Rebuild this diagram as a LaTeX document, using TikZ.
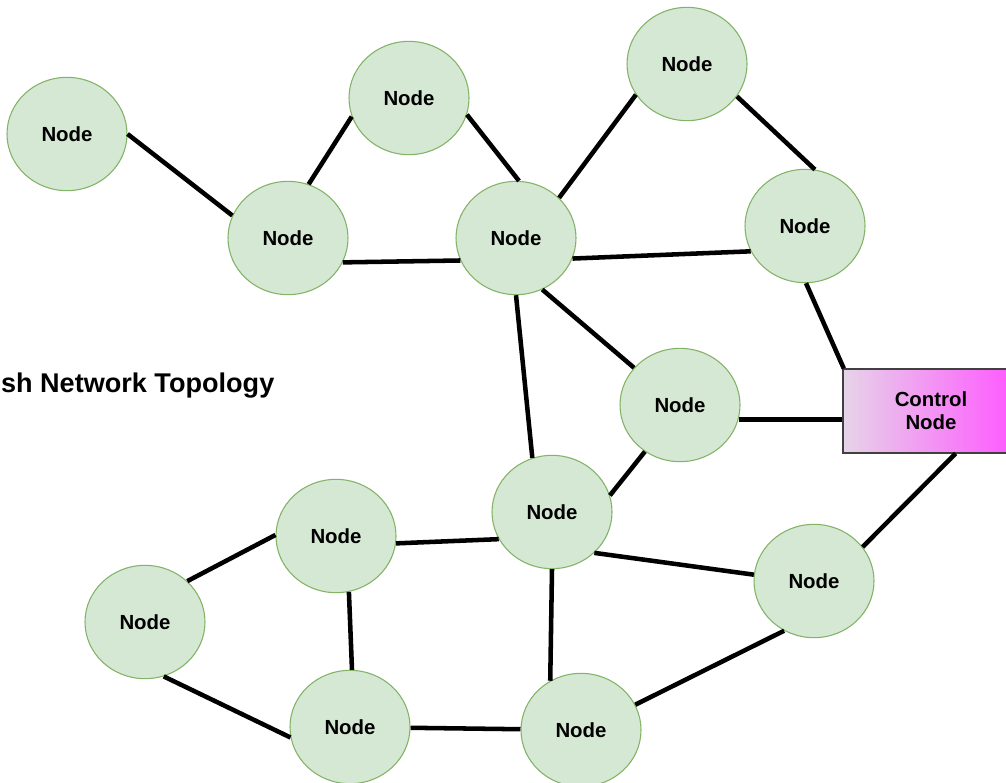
\documentclass[tikz,border=0pt]{standalone}
\usepackage{fontspec}
\setmainfont{Liberation Sans}
\usetikzlibrary{positioning,shapes,shapes.geometric,arrows}
\definecolor{meshfill}{HTML}{D5E8D4}
\definecolor{meshline}{HTML}{82B366}
\definecolor{ctrlleft}{HTML}{E6D4E8}
\definecolor{ctrlright}{HTML}{FF55FF}

\begin{document}
\begin{tikzpicture}[
		x=0.75pt,y=-0.75pt,
		meshnode/.style={draw=meshline,fill=meshfill,line width=0.8pt,ellipse,minimum width=90pt,minimum height=85pt,inner sep=0pt,font=\fontsize{15.3}{17}\selectfont\bfseries},
		ctrlnode/.style={draw=black!75,line width=0.8pt,rectangle,minimum width=132pt,minimum height=63pt,align=center,left color=ctrlleft,right color=ctrlright,font=\fontsize{15.3}{17.25}\selectfont\bfseries},
		link/.style={line width=3.4pt,black}
		]
		\useasboundingbox (0,0) rectangle (1006,782);
		\node[meshnode] (far) at (67,134) {Node};
		\node[meshnode] (topmid) at (409,98) {Node};
		\node[meshnode] (topright) at (687,64) {Node};
		\node[meshnode] (left) at (288,238) {Node};
		\node[meshnode] (hub) at (516,238) {Node};
		\node[meshnode] (right) at (805,226) {Node};
		\node[meshnode] (mid) at (680,405) {Node};
		\node[meshnode] (center) at (552,512) {Node};
		\node[meshnode] (lowleft) at (336,536) {Node};
		\node[meshnode] (edge) at (145,622) {Node};
		\node[meshnode] (lowright) at (814,581) {Node};
		\node[meshnode] (botleft) at (350,727) {Node};
		\node[meshnode] (botright) at (581,730) {Node};
		\node[ctrlnode] (control) at (931,411) {Control\\Node};
		\node[anchor=east,font=\fontsize{20.3}{24}\selectfont\bfseries] (title) at (279,386) {sh Network Topology};
		\path
		(far.0) edge[link] (left.158)
		(left.69) edge[link] (topmid.198)
		(topmid.-16) edge[link] (hub.87)
		(left.-24) edge[link] (hub.202)
		(hub.43) edge[link] (topright.211)
		(topright.-33) edge[link] (right.80)
		(hub.-20) edge[link] (right.205)
		(hub.-63) edge[link] (mid.141)
		(hub.-90) edge[link] (center.110)
		(right.-89) edge[link] (control.154)
		(mid.-14) edge[link] (mid.-14 -| control.west)
		(mid.233) edge[link] (center.16)
		(center.207) edge[link] (lowleft.-7)
		(center.-44) edge[link] (lowright.174)
		(center.-90) edge[link] (botright.122)
		(control.-60) edge[link] (lowright.35)
		(lowleft.179) edge[link] (edge.44)
		(lowleft.-77) edge[link] (botleft.88)
		(edge.-71) edge[link] (botleft.190)
		(botleft) edge[link] (botright)
		(botright.25) edge[link] (lowright.239);
	\end{tikzpicture}
\end{document}
